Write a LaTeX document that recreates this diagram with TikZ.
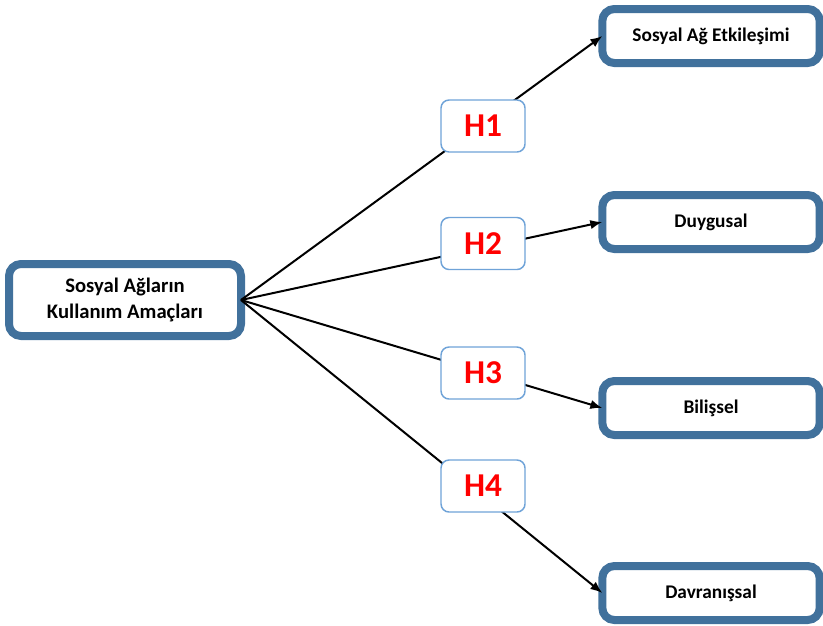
\documentclass[tikz,border=0pt]{standalone}
\usepackage{fontspec}
\setmainfont{Carlito}
\usetikzlibrary{arrows.meta}

\definecolor{frameblue}{HTML}{41719C}
\definecolor{hblue}{HTML}{6FA3D8}

\begin{document}
\begin{tikzpicture}[x=0.75pt,y=-0.75pt,
every node/.style={outer sep=0pt, inner sep=1pt, align=center},
bigbox/.style={draw=frameblue, line width=6pt, rounded corners=9pt, fill=white},
endbox/.style={bigbox, minimum width=163pt, minimum height=40.5pt,
    font=\bfseries\fontsize{14.5}{18}\selectfont},
hbox/.style={draw=hblue, line width=1.1pt, rounded corners=6pt, fill=white,
    minimum width=63pt, minimum height=39pt, text=red,
    font=\bfseries\fontsize{25}{28}\selectfont},
link/.style={line width=1.5pt, -{Latex[length=9pt,width=7pt]}}
]
\useasboundingbox (0,0) rectangle (823,625);

\node[bigbox, minimum width=174pt, minimum height=54pt,
    font=\bfseries\fontsize{15.5}{20}\selectfont] (src) at (125,300)
    {Sosyal Ağların\\Kullanım Amaçları};

\node[endbox] (t1) at (711,36) {Sosyal Ağ Etkileşimi};
\node[endbox] (t2) at (711,222) {Duygusal};
\node[endbox] (t3) at (711,408) {Bilişsel};
\node[endbox] (t4) at (711,593) {Davranışsal};

\foreach \t in {t1,t2,t3,t4}
    \draw [link] (src.east) -- (\t.west);

\node[hbox] (h1) at (483,126) {H1};
\node[hbox] (h2) at (483,243.5) {H2};
\node[hbox] (h3) at (483,373) {H3};
\node[hbox] (h4) at (483,486) {H4};
\end{tikzpicture}
\end{document}
